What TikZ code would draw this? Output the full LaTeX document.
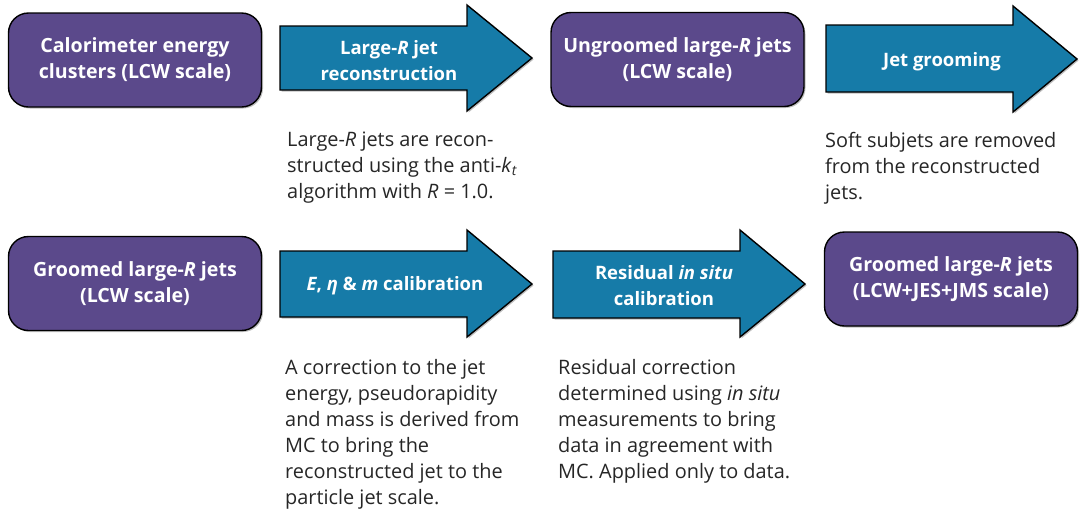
\documentclass[tikz,border=0pt]{standalone}
\usepackage{fontspec}
\setmainfont{Open Sans}
\usetikzlibrary{shadows}
\definecolor{boxpurple}{RGB}{91,73,139}
\definecolor{arrowblue}{RGB}{22,123,168}
\tikzset{
  softshadow/.style={drop shadow={shadow xshift=1.5pt, shadow yshift=-1.5pt, opacity=0.25, fill=black}},
  stagebox/.style={draw=black, line width=1.4pt, fill=boxpurple, rounded corners=20pt,
    minimum width=253pt, minimum height=94pt, align=center, text=white,
    font=\bfseries\fontsize{19.6}{26}\selectfont, softshadow},
  flowarrow/.style={draw=black, line width=1.4pt, fill=arrowblue, line join=miter, softshadow},
  arrowlabel/.style={align=center, text=white, inner sep=0pt,
    font=\bfseries\fontsize{18.5}{26}\selectfont},
  desc/.style={anchor=north west, align=left, inner sep=0pt, text=black!85,
    font=\fontsize{19.9}{26}\selectfont},
}
\begin{document}
\begin{tikzpicture}[x=1pt, y=-1pt]
\useasboundingbox (0,0) rectangle (1082,512);
% row 1
\node[stagebox] (calo) at (135,60) {Calorimeter energy\\clusters (LCW scale)};
\path[flowarrow] (280,26) -- (467,26) -- (467,5) -- (532,58) -- (467,111) -- (467,90) -- (280,90) -- cycle;
\node[arrowlabel] (reco) at (389,60.5) {Large-\textit{R} jet\\reconstruction};
\node[stagebox] (ungr) at (677.5,59.5) {Ungroomed large-\textit{R} jets\\(LCW scale)};
\path[flowarrow] (826,25) -- (1013,25) -- (1013,6) -- (1077,59) -- (1013,112) -- (1013,92) -- (826,92) -- cycle;
\node[arrowlabel] (groom) at (942,62) {Jet grooming};
\node[desc] (recodesc) at (287,132) {Large-\textit{R} jets are recon-\\structed using the anti-\textit{k}\textsubscript{\textit{t}}\\algorithm with \textit{R} = 1.0.};
\node[desc] (groomdesc) at (825,132) {Soft subjets are removed\\from the reconstructed\\jets.};
% row 2
\node[stagebox] (groomed) at (135,283.5) {Groomed large-\textit{R} jets\\(LCW scale)};
\path[flowarrow] (280,251) -- (467,251) -- (467,230) -- (532,284) -- (467,337) -- (467,317) -- (280,317) -- cycle;
\node[arrowlabel] (calib) at (395,286) {\textit{E}, \textit{η} \& \textit{m} calibration};
\path[flowarrow] (553,251) -- (740,251) -- (740,230) -- (805,284) -- (740,337) -- (740,318) -- (553,318) -- cycle;
\node[arrowlabel] (insitu) at (664,285.5) {Residual \textit{in situ}\\calibration};
\node[stagebox] (final) at (951,279) {Groomed large-\textit{R} jets\\(LCW+JES+JMS scale)};
\node[desc] (calibdesc) at (285,359.6) {A correction to the jet\\energy, pseudorapidity\\and mass is derived from\\MC to bring the\\reconstructed jet to the\\particle jet scale.};
\node[desc] (insitudesc) at (558,359.6) {Residual correction\\determined using \textit{in situ}\\measurements to bring\\data in agreement with\\MC. Applied only to data.};
\end{tikzpicture}
\end{document}
